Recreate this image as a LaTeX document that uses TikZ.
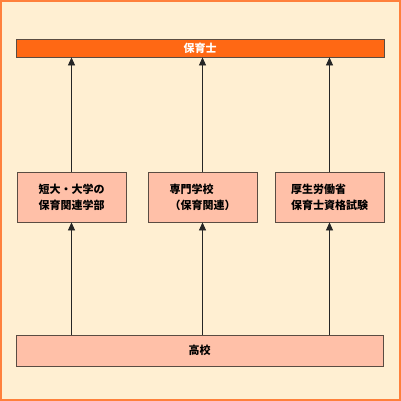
\documentclass[tikz,border=0pt]{standalone}
\usepackage{fontspec}
\setmainfont{Noto Sans CJK JP}
\usetikzlibrary{arrows.meta}
\definecolor{Paper}{RGB}{255, 239, 210}
\definecolor{Frame}{RGB}{255, 128, 60}
\definecolor{Career}{RGB}{255, 104, 20}
\definecolor{Route}{RGB}{255, 192, 168}
\definecolor{Edge}{RGB}{90, 76, 66}

\begin{document}
\begin{tikzpicture}[x=1pt, y=-1pt,
    routebox/.style={draw=Edge, line width=0.8pt, fill=Route, inner sep=0pt,
        font=\fontsize{11pt}{16pt}\selectfont\bfseries, align=left},
    uparrow/.style={draw=black!85, line width=0.6pt, -{Triangle[width=7pt, length=8pt]}}]

% Background and frame
\fill[Paper] (0,0) rectangle (401,401);
\draw[Frame, line width=2pt] (1,1) rectangle (400,400);

% Goal: qualification
\node[routebox, fill=Career, text=white, minimum width=368pt, minimum height=18pt] (career) at (200,48) {保育士};

% Routes
\node[routebox, minimum width=109pt, minimum height=50pt] (univ) at (71.5,197) {短大・大学の\\保育関連学部};
\node[routebox, minimum width=109pt, minimum height=50pt] (college) at (202.5,197) {専門学校\\（保育関連）};
\node[routebox, minimum width=109pt, minimum height=50pt] (exam) at (329.5,197) {厚生労働省\\保育士資格試験};

% Start: high school
\node[routebox, minimum width=367pt, minimum height=31pt] (school) at (199.5,350.5) {高校};

% Arrows
\foreach \route in {univ, college, exam} {
    \draw[uparrow] (school.north -| \route) -- (\route.south);
    \draw[uparrow] (\route.north) -- (career.south -| \route);
}

\end{tikzpicture}
\end{document}
